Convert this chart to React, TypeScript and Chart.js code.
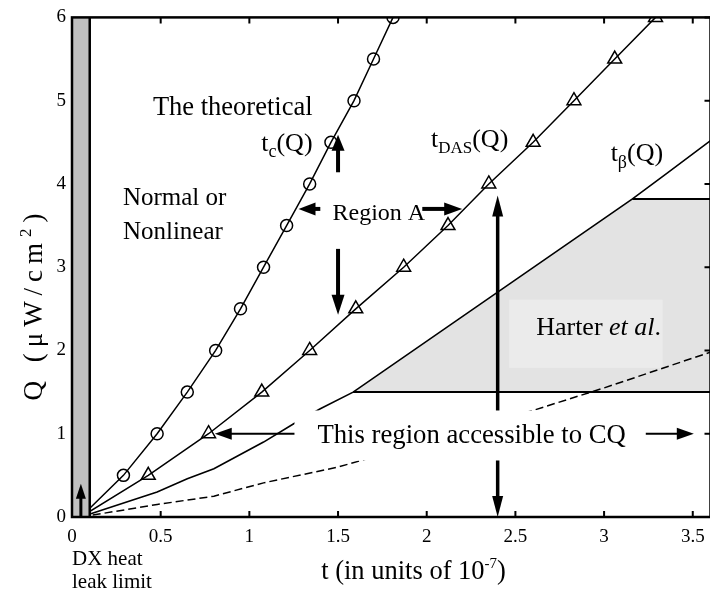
import React, { useEffect, useRef } from "react";
import { Chart, registerables } from "chart.js";

Chart.register(...registerables);

// ---------------- data ----------------
const qLevels = [0, 0.5, 1, 1.5, 2, 2.5, 3, 3.5, 4, 4.5, 5, 5.5, 6];
const tcValues = [0.05, 0.29, 0.48, 0.65, 0.81, 0.95, 1.08, 1.21, 1.34, 1.46, 1.59, 1.7, 1.81];
const tdasValues = [0.05, 0.43, 0.77, 1.07, 1.34, 1.6, 1.87, 2.12, 2.35, 2.6, 2.83, 3.06, 3.29];
const tBetaT = [0.05, 0.48, 0.65, 0.8, 1.08, 1.25, 1.4, 1.585, 3.16, 3.35, 3.6];
const tBetaQ = [0, 0.3, 0.46, 0.58, 0.9, 1.12, 1.3, 1.5, 3.82, 4.12, 4.52];
const lowerT = [0.05, 0.48, 0.8, 1.08, 1.5, 2.0, 2.6, 3.0, 3.6];
const lowerQ = [0, 0.15, 0.25, 0.41, 0.6, 0.9, 1.28, 1.55, 1.98];
const harterQ = [1.5, 3.82];
const dxLeakLimit = 0.1;
const xTickValues = [0, 0.5, 1, 1.5, 2, 2.5, 3, 3.5];
const yTickValues = [0, 1, 2, 3, 4, 5, 6];
const xRange = [0, 3.6];
const yRange = [0, 6];

// ---------------- styling ----------------
const SERIF = "'Liberation Serif', 'Times New Roman', Times, serif";

type Part = { text: string; size: number; dy?: number; italic?: boolean; spacing?: number };

function partWidth(ctx: CanvasRenderingContext2D, p: Part) {
  ctx.font = `${p.italic ? "italic " : ""}${p.size}px ${SERIF}`;
  if (!p.spacing) return ctx.measureText(p.text).width;
  let w = 0;
  for (const ch of Array.from(p.text)) w += ctx.measureText(ch).width + p.spacing;
  return w;
}

function richWidth(ctx: CanvasRenderingContext2D, parts: Part[]) {
  let w = 0;
  for (const p of parts) w += partWidth(ctx, p);
  return w;
}

function drawRich(ctx: CanvasRenderingContext2D, parts: Part[], x: number, y: number) {
  let cx = x;
  ctx.textAlign = "left";
  ctx.textBaseline = "alphabetic";
  ctx.fillStyle = "#000";
  for (const p of parts) {
    ctx.font = `${p.italic ? "italic " : ""}${p.size}px ${SERIF}`;
    if (p.spacing) {
      for (const ch of Array.from(p.text)) {
        ctx.fillText(ch, cx, y + (p.dy || 0));
        cx += ctx.measureText(ch).width + p.spacing;
      }
    } else {
      ctx.fillText(p.text, cx, y + (p.dy || 0));
      cx += ctx.measureText(p.text).width;
    }
  }
  return cx - x;
}

function head(ctx: CanvasRenderingContext2D, x: number, y: number, ux: number, uy: number, len: number, w: number) {
  const bx = x - ux * len;
  const by = y - uy * len;
  ctx.beginPath();
  ctx.moveTo(x, y);
  ctx.lineTo(bx - uy * (w / 2), by + ux * (w / 2));
  ctx.lineTo(bx + uy * (w / 2), by - ux * (w / 2));
  ctx.closePath();
  ctx.fill();
}

function arrow(
  ctx: CanvasRenderingContext2D,
  x1: number, y1: number, x2: number, y2: number,
  width: number, len: number, w: number, both = false
) {
  const d = Math.hypot(x2 - x1, y2 - y1);
  const ux = (x2 - x1) / d;
  const uy = (y2 - y1) / d;
  ctx.strokeStyle = "#000";
  ctx.fillStyle = "#000";
  ctx.lineWidth = width;
  ctx.lineCap = "butt";
  ctx.beginPath();
  const s = both ? len * 0.8 : 0;
  ctx.moveTo(x1 + ux * s, y1 + uy * s);
  ctx.lineTo(x2 - ux * len * 0.8, y2 - uy * len * 0.8);
  ctx.stroke();
  head(ctx, x2, y2, ux, uy, len, w);
  if (both) head(ctx, x1, y1, -ux, -uy, len, w);
}

function interpT(q: number) {
  for (let i = 1; i < tBetaQ.length; i++) {
    if (q <= tBetaQ[i]) {
      const f = (q - tBetaQ[i - 1]) / (tBetaQ[i] - tBetaQ[i - 1]);
      return tBetaT[i - 1] + f * (tBetaT[i] - tBetaT[i - 1]);
    }
  }
  return tBetaT[tBetaT.length - 1];
}

const decorPlugin = {
  id: "decor",
  beforeDatasetsDraw(chart: any) {
    const { ctx, chartArea: a, scales } = chart;
    const X = (v: number) => scales.x.getPixelForValue(v);
    const Y = (v: number) => scales.y.getPixelForValue(v);
    ctx.save();
    ctx.beginPath();
    ctx.rect(a.left, a.top, a.right - a.left, a.bottom - a.top);
    ctx.clip();
    const [qLo, qHi] = harterQ;
    const pts: number[][] = [[interpT(qLo), qLo]];
    for (let i = 0; i < tBetaQ.length; i++) {
      if (tBetaQ[i] > qLo && tBetaQ[i] < qHi) pts.push([tBetaT[i], tBetaQ[i]]);
    }
    pts.push([interpT(qHi), qHi], [xRange[1], qHi], [xRange[1], qLo]);
    ctx.beginPath();
    pts.forEach(([t, q], i) => (i ? ctx.lineTo(X(t), Y(q)) : ctx.moveTo(X(t), Y(q))));
    ctx.closePath();
    ctx.fillStyle = "#e3e3e3";
    ctx.fill();
    // lighter label panel
    ctx.fillStyle = "#ebebeb";
    ctx.fillRect(X(2.465), Y(2.61), X(3.33) - X(2.465), Y(1.79) - Y(2.61));
    // edges
    ctx.strokeStyle = "#000";
    ctx.lineWidth = 2;
    ctx.beginPath();
    ctx.moveTo(X(interpT(qLo)), Y(qLo));
    ctx.lineTo(a.right, Y(qLo));
    ctx.moveTo(X(interpT(qHi)), Y(qHi));
    ctx.lineTo(a.right, Y(qHi));
    ctx.stroke();
    drawRich(ctx, [
      { text: "Harter ", size: 26 },
      { text: "et al", size: 26, italic: true },
      { text: ".", size: 26 },
    ], X(2.617), Y(2.183));
    ctx.restore();
  },
  afterDatasetsDraw(chart: any) {
    const { ctx, chartArea: a, scales } = chart;
    const X = (v: number) => scales.x.getPixelForValue(v);
    const Y = (v: number) => scales.y.getPixelForValue(v);
    ctx.save();

    // DX heat-leak band
    ctx.fillStyle = "#c0c0c0";
    ctx.fillRect(a.left, a.top, X(dxLeakLimit) - a.left, a.bottom - a.top);
    ctx.strokeStyle = "#000";
    ctx.lineWidth = 2.5;
    ctx.beginPath();
    ctx.moveTo(X(dxLeakLimit), a.top);
    ctx.lineTo(X(dxLeakLimit), a.bottom);
    ctx.stroke();
    arrow(ctx, X(0.05), Y(0), X(0.05), Y(0.4), 3, 15, 10);

    // Region A cross arrows
    const cx = 1.5, cy = 3.7;
    arrow(ctx, X(cx), Y(4.14), X(cx), Y(4.59), 4, 16, 13);
    arrow(ctx, X(cx), Y(3.22), X(cx), Y(2.43), 4, 20, 13);
    arrow(ctx, X(1.4), Y(cy), X(1.277), Y(cy), 4, 17, 13);
    arrow(ctx, X(1.975), Y(cy), X(2.2), Y(cy), 4, 18, 13);

    // accessible region arrows
    arrow(ctx, X(2.4), Y(0), X(2.4), Y(3.86), 3.5, 21, 11, true);
    arrow(ctx, X(0.805), Y(1), X(3.506), Y(1), 2, 17, 12, true);

    // white label box
    const cqParts: Part[] = [{ text: "This region accessible to CQ", size: 26.7 }];
    const tx = X(1.384), ty = Y(0.883);
    const tw = richWidth(ctx, cqParts);
    ctx.fillStyle = "#fff";
    ctx.fillRect(tx - 23, ty - 33, tw + 43, 50);
    drawRich(ctx, cqParts, tx, ty);

    // frame
    ctx.strokeStyle = "#000";
    ctx.lineWidth = 2.5;
    ctx.strokeRect(a.left, a.top, a.right - a.left, a.bottom - a.top);
    ctx.lineWidth = 2;
    ctx.beginPath();
    for (const v of xTickValues) {
      if (v <= dxLeakLimit) continue;
      const px = X(v);
      ctx.moveTo(px, a.bottom);
      ctx.lineTo(px, a.bottom - 6);
      ctx.moveTo(px, a.top);
      ctx.lineTo(px, a.top + 6);
    }
    for (const v of yTickValues) {
      const py = Y(v);
      ctx.moveTo(a.right, py);
      ctx.lineTo(a.right - 6, py);
    }
    ctx.stroke();

    // labels
    drawRich(ctx, [{ text: "The theoretical", size: 26.5 }], X(0.456), Y(4.83));
    drawRich(ctx, [
      { text: "t", size: 26 },
      { text: "c", size: 18, dy: 6 },
      { text: "(Q)", size: 26 },
    ], X(1.067), Y(4.392));
    drawRich(ctx, [
      { text: "t", size: 26 },
      { text: "DAS", size: 17, dy: 6 },
      { text: "(Q)", size: 26 },
    ], X(2.024), Y(4.44));
    drawRich(ctx, [
      { text: "t", size: 26 },
      { text: "β", size: 18, dy: 7 },
      { text: "(Q)", size: 26 },
    ], X(3.037), Y(4.28));
    drawRich(ctx, [{ text: "Normal or", size: 25 }], X(0.287), Y(3.746));
    drawRich(ctx, [{ text: "Nonlinear", size: 25 }], X(0.287), Y(3.34));
    drawRich(ctx, [{ text: "Region A", size: 24 }], X(1.469), Y(3.567));

    // under-axis note
    drawRich(ctx, [{ text: "DX heat", size: 21 }], a.left, a.bottom + 48);
    drawRich(ctx, [{ text: "leak limit", size: 21 }], a.left, a.bottom + 71);

    // axis titles
    drawRich(ctx, [
      { text: "t (in units of 10", size: 26.5 },
      { text: "-7", size: 15, dy: -11 },
      { text: ")", size: 26.5 },
    ], X(1.405), a.bottom + 62);

    const yParts: Part[] = [
      { text: "Q (μW/cm", size: 27, spacing: 6 },
      { text: "2", size: 17, dy: -11, spacing: 6 },
      { text: ")", size: 27 },
    ];
    const yw = richWidth(ctx, yParts);
    ctx.translate(33, 307);
    ctx.rotate(-Math.PI / 2);
    drawRich(ctx, yParts, -yw / 2, 9);
    ctx.restore();
  },
};

const tickFont = { family: SERIF, size: 19 };

function pairs(xs: number[], ys: number[]) {
  return xs.map((v, i) => ({ x: v, y: ys[i] }));
}

export default function App() {
  const ref = useRef<HTMLCanvasElement>(null);
  useEffect(() => {
    const canvas = ref.current!;
    const chart = new Chart(canvas, {
      type: "scatter",
      data: {
        datasets: [
          {
            label: "tc(Q)",
            data: pairs(tcValues, qLevels),
            showLine: true,
            borderColor: "#000",
            borderWidth: 1.5,
            pointStyle: "circle",
            pointRadius: (c: any) => (c.dataIndex === 0 ? 0 : 6),
            pointBorderWidth: 1.5,
            pointBorderColor: "#000",
            pointBackgroundColor: "rgba(0,0,0,0)",
            clip: 0,
          },
          {
            label: "tDAS(Q)",
            data: pairs(tdasValues, qLevels),
            showLine: true,
            borderColor: "#000",
            borderWidth: 1.5,
            pointStyle: "triangle",
            pointRadius: (c: any) => (c.dataIndex === 0 ? 0 : 8),
            pointBorderWidth: 1.5,
            pointBorderColor: "#000",
            pointBackgroundColor: "rgba(0,0,0,0)",
            clip: 0,
          },
          {
            label: "tβ(Q)",
            data: pairs(tBetaT, tBetaQ),
            showLine: true,
            borderColor: "#000",
            borderWidth: 1.6,
            pointRadius: 0,
            clip: 0,
          },
          {
            label: "lower",
            data: pairs(lowerT, lowerQ),
            showLine: true,
            borderColor: "#000",
            borderWidth: 1.5,
            borderDash: [8, 4],
            pointRadius: 0,
            clip: 0,
          },
        ],
      } as any,
      options: {
        animation: false,
        responsive: false,
        events: [],
        layout: { padding: { top: 14, right: 8, bottom: 0, left: 0 } },
        plugins: { legend: { display: false }, tooltip: { enabled: false } },
        scales: {
          x: {
            type: "linear",
            min: xRange[0],
            max: xRange[1],
            afterFit: (s: any) => { s.height = 75; },
            afterBuildTicks: (s: any) => { s.ticks = xTickValues.map((v) => ({ value: v })); },
            grid: { display: false, drawTicks: false },
            border: { display: false },
            ticks: { font: tickFont, color: "#000", padding: 9, maxRotation: 0, autoSkip: false, callback: (v: any) => String(v) },
          },
          y: {
            type: "linear",
            min: yRange[0],
            max: yRange[1],
            afterFit: (s: any) => { s.width = 72; },
            afterBuildTicks: (s: any) => { s.ticks = yTickValues.map((v) => ({ value: v })); },
            grid: { display: false, drawTicks: false },
            border: { display: false },
            ticks: { font: tickFont, color: "#000", padding: 6, autoSkip: false, callback: (v: any) => String(v) },
          },
        },
      } as any,
      plugins: [decorPlugin],
    });
    return () => chart.destroy();
  }, []);
  return (
    <div style={{ position: "absolute", left: 0, top: 0, width: 710, height: 592, overflow: "hidden", background: "#fff" }}>
      <canvas ref={ref} width={720} height={592} style={{ display: "block", width: 720, height: 592 }} />
    </div>
  );
}
